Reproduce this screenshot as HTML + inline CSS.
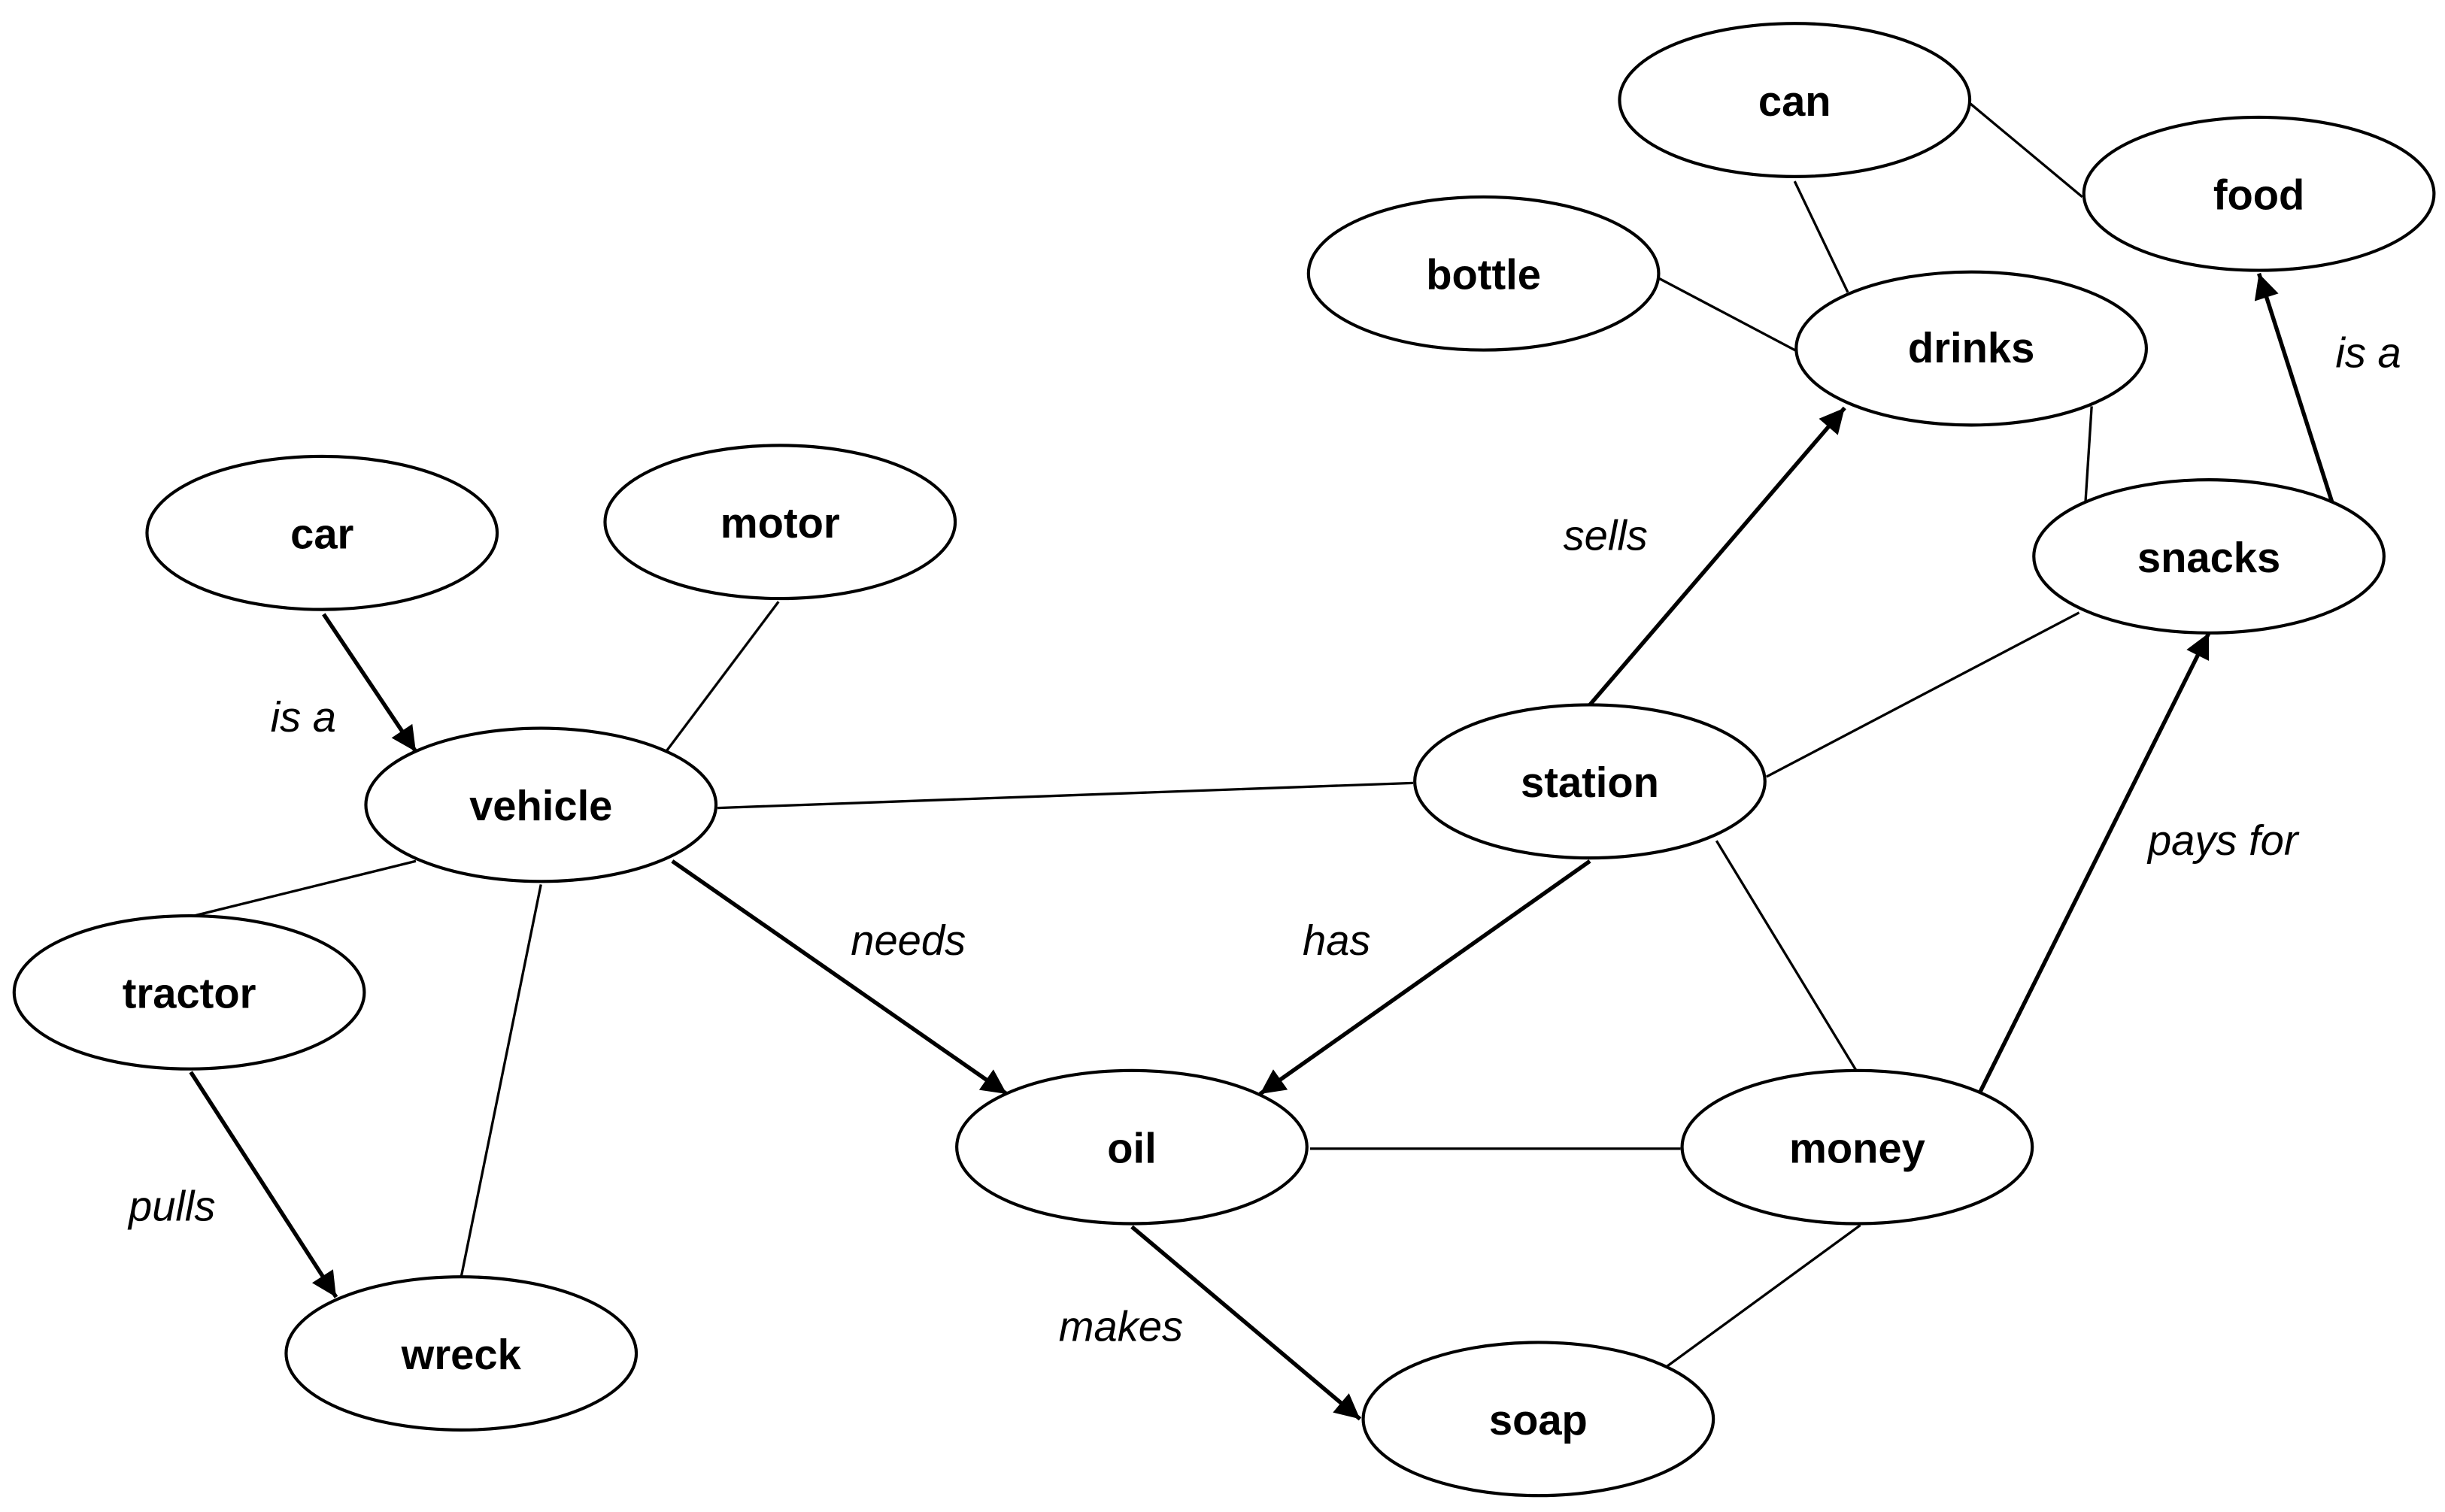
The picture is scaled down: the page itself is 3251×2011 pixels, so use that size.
<!DOCTYPE html>
<html><head><meta charset="utf-8"><style>html,body{margin:0;padding:0;background:#fff}svg{display:block}</style></head>
<body>
<svg width="3251" height="2011" viewBox="0 0 1564 967.5" xmlns="http://www.w3.org/2000/svg">
<defs><marker id="a" markerWidth="8" markerHeight="8" refX="7" refY="4" orient="auto" markerUnits="userSpaceOnUse" viewBox="0 0 8 8"><path d="M0,0 L8,4 L0,8 z" fill="#000"/></marker>
<marker id="b" viewBox="0 0 10 10" refX="10" refY="5" markerWidth="18" markerHeight="16" markerUnits="userSpaceOnUse" orient="auto"><path d="M0,0 L10,5 L0,10 z" fill="#000"/></marker></defs>
<g stroke="#000" stroke-width="1.6" fill="none">
<line x1="498" y1="385" x2="426" y2="481"/>
<line x1="266" y1="551" x2="120" y2="587"/>
<line x1="346" y1="566" x2="295" y2="817"/>
<line x1="459" y1="517" x2="904" y2="501"/>
<line x1="1098" y1="538" x2="1188" y2="686"/>
<line x1="1130" y1="497" x2="1330" y2="392"/>
<line x1="838" y1="735" x2="1075" y2="735"/>
<line x1="1064" y1="876" x2="1190" y2="784"/>
<line x1="1338" y1="260" x2="1334" y2="322"/>
<line x1="1061" y1="178" x2="1150" y2="225"/>
<line x1="1148" y1="116" x2="1182" y2="187"/>
<line x1="1260" y1="66" x2="1332" y2="126"/>
</g>
<g stroke="#000" stroke-width="2.6" fill="none" marker-end="url(#b)">
<line x1="207" y1="393" x2="266" y2="481"/>
<line x1="430" y1="551" x2="644" y2="700"/>
<line x1="122" y1="686" x2="215" y2="830"/>
<line x1="1017" y1="551" x2="806" y2="700"/>
<line x1="1017" y1="451" x2="1180" y2="261"/>
<line x1="724" y1="785" x2="870" y2="908"/>
<line x1="1266" y1="700" x2="1413" y2="405"/>
<line x1="1492" y1="322" x2="1445" y2="175"/>
</g>
<g stroke="#000" stroke-width="2" fill="#fff">
<ellipse cx="206" cy="341" rx="112" ry="49"/>
<ellipse cx="499" cy="334" rx="112" ry="49"/>
<ellipse cx="346" cy="515" rx="112" ry="49"/>
<ellipse cx="121" cy="635" rx="112" ry="49"/>
<ellipse cx="295" cy="866" rx="112" ry="49"/>
<ellipse cx="724" cy="734" rx="112" ry="49"/>
<ellipse cx="984" cy="908" rx="112" ry="49"/>
<ellipse cx="1188" cy="734" rx="112" ry="49"/>
<ellipse cx="1017" cy="500" rx="112" ry="49"/>
<ellipse cx="1413" cy="356" rx="112" ry="49"/>
<ellipse cx="1261" cy="223" rx="112" ry="49"/>
<ellipse cx="949" cy="175" rx="112" ry="49"/>
<ellipse cx="1148" cy="64" rx="112" ry="49"/>
<ellipse cx="1445" cy="124" rx="112" ry="49"/>
</g>
<g font-family="Liberation Sans, sans-serif" font-weight="bold" font-size="27" text-anchor="middle" fill="#000">
<text x="206" y="351">car</text>
<text x="499" y="344">motor</text>
<text x="346" y="525">vehicle</text>
<text x="121" y="645">tractor</text>
<text x="295" y="876">wreck</text>
<text x="724" y="744">oil</text>
<text x="984" y="918">soap</text>
<text x="1188" y="744">money</text>
<text x="1017" y="510">station</text>
<text x="1413" y="366">snacks</text>
<text x="1261" y="232">drinks</text>
<text x="949" y="185">bottle</text>
<text x="1148" y="74">can</text>
<text x="1445" y="134">food</text>
</g>
<g font-family="Liberation Sans, sans-serif" font-style="italic" font-size="27" text-anchor="middle" fill="#000">
<text x="194" y="468">is a</text>
<text x="110" y="781">pulls</text>
<text x="581" y="611">needs</text>
<text x="855" y="611">has</text>
<text x="1027" y="352">sells</text>
<text x="1422" y="547">pays for</text>
<text x="717" y="858">makes</text>
<text x="1515" y="235">is a</text>
</g>
</svg>
</body></html>
